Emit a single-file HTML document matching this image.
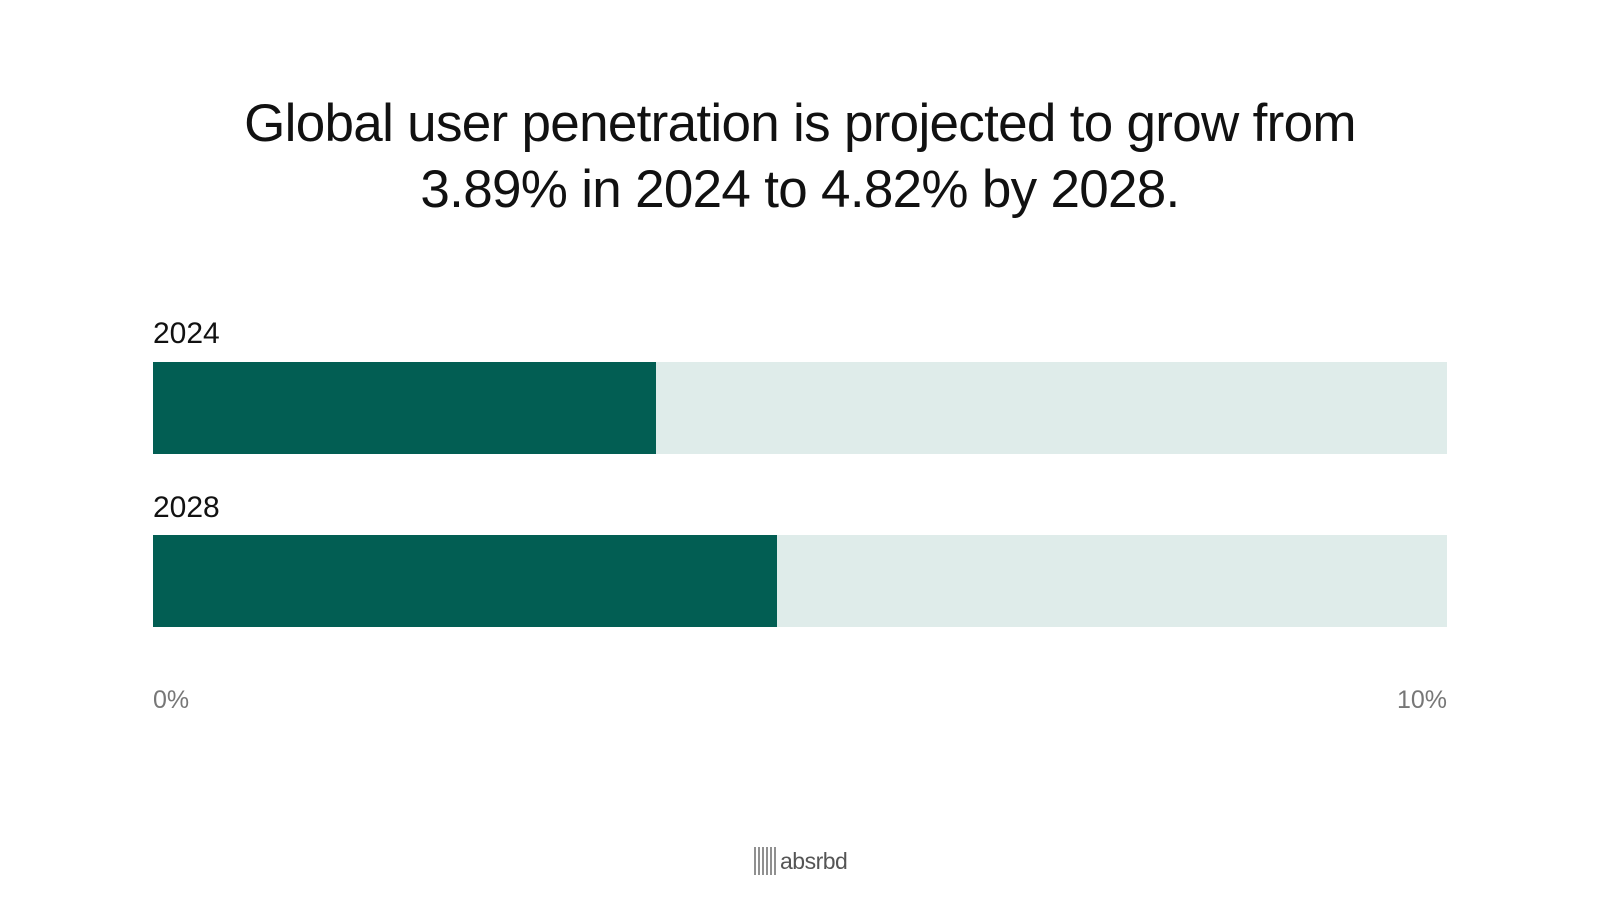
<!DOCTYPE html>
<html><head><meta charset="utf-8"><style>
body{margin:0;width:1600px;height:900px;background:#fff;font-family:"Liberation Sans",sans-serif;overflow:hidden;position:relative}
.title{position:absolute;left:0;width:1600px;top:91px;text-align:center;font-size:53px;line-height:66px;color:#111;letter-spacing:-0.7px}
.lbl{position:absolute;font-size:30px;color:#111}
.tick{position:absolute;font-size:25px;color:#777}
.logo{position:absolute;left:754px;top:847px;height:28px;display:flex;align-items:center;gap:4px}
</style></head><body>
<div class="title">Global user penetration is projected to grow from<br>3.89% in 2024 to 4.82% by 2028.</div>
<div id="chart"></div>
<div class="tick" style="left:153px;top:686px">0%</div>
<div class="tick" style="right:153px;top:686px">10%</div>
<div class="logo">
<svg width="22" height="28"><g stroke="#555" stroke-width="1.3"><line x1="1" y1="0" x2="1" y2="28"/><line x1="5" y1="0" x2="5" y2="28"/><line x1="9" y1="0" x2="9" y2="28"/><line x1="13" y1="0" x2="13" y2="28"/><line x1="17" y1="0" x2="17" y2="28"/><line x1="21" y1="0" x2="21" y2="28"/></g></svg>
<span style="font-size:23px;color:#555;letter-spacing:-0.5px">absrbd</span></div>
<script>
const categories=["2024","2028"];
const values=[3.89,4.82];
const axisMax=10;
const X0=153,X1=1447,W=X1-X0;
const tops=[362,535],H=92;
function x(v){return X0+v/axisMax*W;}
const chart=document.getElementById('chart');
categories.forEach((c,i)=>{
  const t=tops[i];
  const l=document.createElement('div');
  l.className='lbl';l.style.left=X0+'px';l.style.top=(t-45+i)+'px';l.textContent=c;
  
  
  chart.appendChild(l);
  const bg=document.createElement('div');
  bg.style.cssText=`position:absolute;left:${X0}px;top:${t}px;width:${W}px;height:${H}px;background:#dfecea`;
  
  
  chart.appendChild(bg);
  const b=document.createElement('div');
  b.style.cssText=`position:absolute;left:${X0}px;top:${t}px;width:${x(values[i])-X0}px;height:${H}px;background:#025e53`;
  
  
  chart.appendChild(b);
});
</script>
</body></html>
